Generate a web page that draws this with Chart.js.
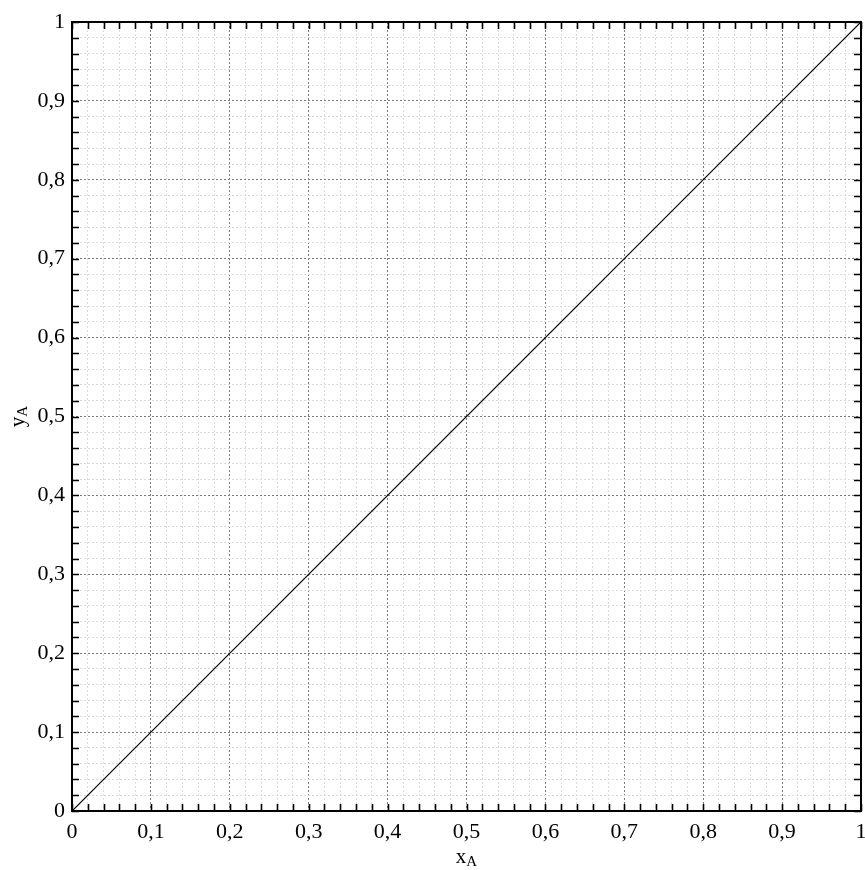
<!DOCTYPE html>
<html>
<head>
<meta charset="utf-8">
<script src="https://cdn.jsdelivr.net/npm/chart.js@4"></script>
<style>
  html, body { margin: 0; padding: 0; background: #fff; }
  #wrap { width: 865px; height: 870px; }
</style>
</head>
<body>
<div id="wrap"><canvas id="chart" width="865" height="870"></canvas></div>
<script>
// Data
const lineX = [0, 1];
const lineY = [0, 1];
const axisMin = 0;
const axisMax = 1;
const minorStep = 0.02;
const xTitle = ['x', 'A'];
const yTitle = ['y', 'A'];

const FONT = '"Liberation Serif", "Times New Roman", serif';

function fmt(v) {
  const r = Math.round(v * 10) / 10;
  return String(r).replace('.', ',');
}
function isMajor(v) {
  return Math.abs(v * 10 - Math.round(v * 10)) < 1e-6;
}

// ticks inside on all four sides, frame, and axis titles with subscript
const framePlugin = {
  id: 'frame',
  afterDatasetsDraw(chart) {
    const { ctx, chartArea: a, scales } = chart;
    ctx.save();
    ctx.strokeStyle = '#000';
    ctx.lineWidth = 1.6;
    const len = 7;
    scales.x.ticks.forEach(t => {
      const px = Math.round(scales.x.getPixelForValue(t.value)) + 0.5;
      ctx.beginPath();
      ctx.moveTo(px, a.bottom); ctx.lineTo(px, a.bottom - len);
      ctx.moveTo(px, a.top); ctx.lineTo(px, a.top + len);
      ctx.stroke();
    });
    scales.y.ticks.forEach(t => {
      const py = Math.round(scales.y.getPixelForValue(t.value)) + 0.5;
      ctx.beginPath();
      ctx.moveTo(a.left, py); ctx.lineTo(a.left + len, py);
      ctx.moveTo(a.right, py); ctx.lineTo(a.right - len, py);
      ctx.stroke();
    });
    ctx.lineWidth = 2;
    ctx.strokeRect(a.left, a.top, a.right - a.left, a.bottom - a.top);

    // axis titles
    ctx.fillStyle = '#000';
    ctx.textBaseline = 'alphabetic';
    const drawSub = (main, sub, cx, cy) => {
      ctx.font = '21px ' + FONT;
      const w1 = ctx.measureText(main).width;
      ctx.font = '15px ' + FONT;
      const w2 = ctx.measureText(sub).width;
      const x0 = cx - (w1 + w2) / 2;
      ctx.font = '21px ' + FONT;
      ctx.textAlign = 'left';
      ctx.fillText(main, x0, cy);
      ctx.font = '15px ' + FONT;
      ctx.fillText(sub, x0 + w1, cy + 3);
    };
    drawSub(xTitle[0], xTitle[1], (a.left + a.right) / 2, 863);
    ctx.translate(24, (a.top + a.bottom) / 2);
    ctx.rotate(-Math.PI / 2);
    drawSub(yTitle[0], yTitle[1], 0, 0);
    ctx.restore();
  }
};

const gridColor = ctx => (ctx.tick && isMajor(ctx.tick.value)) ? '#7a7a7a' : '#dcdcdc';

function axis(pos) {
  return {
    type: 'linear',
    position: pos,
    min: axisMin,
    max: axisMax,
    afterBuildTicks(scale) {
      const t = [];
      for (let i = 0; i <= Math.round((axisMax - axisMin) / minorStep); i++) {
        t.push({ value: +(axisMin + i * minorStep).toFixed(4) });
      }
      scale.ticks = t;
    },
    afterFit(scale) {
      if (pos === 'left') scale.width = 72;
      else scale.height = 59;
      scale.paddingLeft = 0;
      scale.paddingRight = 0;
      scale.paddingTop = 0;
      scale.paddingBottom = 0;
    },
    grid: {
      color: gridColor,
      lineWidth: 1,
      drawTicks: false
    },
    border: { display: false, dash: [2, 2] },
    ticks: {
      autoSkip: false,
      maxRotation: 0,
      padding: pos === 'left' ? 7 : 8,
      color: '#000',
      font: { family: FONT, size: 22 },
      callback: v => isMajor(v) ? fmt(v) : ''
    }
  };
}

new Chart(document.getElementById('chart'), {
  type: 'scatter',
  data: {
    datasets: [{
      data: lineX.map((x, i) => ({ x: x, y: lineY[i] })),
      showLine: true,
      borderColor: '#000',
      borderWidth: 1.2,
      pointRadius: 0,
      fill: false
    }]
  },
  options: {
    responsive: false,
    animation: false,
    layout: { padding: { left: 0, top: 22, right: 4, bottom: 0 } },
    plugins: { legend: { display: false }, tooltip: { enabled: false } },
    scales: { x: axis('bottom'), y: axis('left') }
  },
  plugins: [framePlugin]
});
</script>
</body>
</html>
